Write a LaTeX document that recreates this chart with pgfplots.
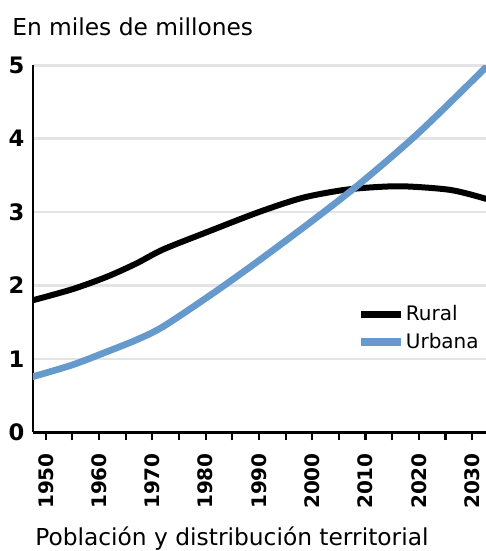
\documentclass[border=0pt]{standalone}
\usepackage{fontspec}
\setmainfont{DejaVu Sans}
\usepackage{pgfplots}
\pgfplotsset{compat=1.18}
\definecolor{urbBlue}{RGB}{102,153,204}
\definecolor{gridGray}{RGB}{228,228,228}

\begin{document}
\begin{tikzpicture}
\begin{axis}[
    scale only axis, width=339.75pt, height=275.6pt,
    xmin=1947.6, xmax=2032.6, ymin=0, ymax=5,
    axis x line*=bottom, axis y line*=left,
    axis line style={line width=2pt, black},
    xtick={1950,1960,...,2030}, minor xtick={1955,1965,...,2025},
    tick align=outside, major tick length=6pt, minor tick length=6pt,
    xtick style={line width=1.6pt, black},
    ytick={0,1,...,5}, ytick style={draw=none},
    ymajorgrids, major grid style={draw=gridGray, line width=2.2pt},
    /pgf/number format/assume math mode=true,
    xticklabel shift=6pt, yticklabel shift=-3pt,
    x tick label style={/pgf/number format/1000 sep={}, rotate=90, anchor=east,
        font=\fontsize{15}{18}\selectfont\bfseries},
    y tick label style={font=\fontsize{17}{19}\selectfont\bfseries},
    legend style={draw=none, fill=none, at={(axis cs:2008.4,1.42)}, anchor=west,
        font=\fontsize{15}{18}\selectfont, row sep=6pt,
        inner sep=0pt, nodes={inner sep=1pt}},
    legend cell align=left,
    legend image code/.code={\draw[#1, line width=5.5pt, line cap=butt] (0pt,0pt) -- (30pt,0pt);},
]
\addplot[black, line width=4.5pt, smooth, line cap=round] coordinates {
(1947.6,1.80) (1955,1.95) (1961.5,2.12) (1967,2.30) (1972,2.49) (1980,2.72)
(1990,3.00) (1998,3.19) (2005,3.29) (2010,3.33) (2017,3.35) (2026,3.30) (2032.6,3.18)};
\addlegendentry{Rural}
\addplot[urbBlue, line width=5pt, smooth, line cap=round] coordinates {
(1947.6,0.76) (1955,0.92) (1961.5,1.10) (1967,1.26) (1972,1.44) (1981.5,1.90)
(1990,2.34) (2000,2.88) (2009,3.39) (2020,4.08) (2032.6,4.97)};
\addlegendentry{Urbana}
\end{axis}
\node[anchor=base west, font=\fontsize{17.5}{20}\selectfont, inner sep=0pt] at (-15.75pt,298pt) {En miles de millones};
\node[anchor=base west, font=\fontsize{17.5}{20}\selectfont, inner sep=0pt] at (1.5pt,-84.4pt) {Población y distribución territorial};
\pgfresetboundingbox
\path[use as bounding box] (-24.75pt,-88.9pt) rectangle (339.75pt,324.4pt);
\end{tikzpicture}
\end{document}
